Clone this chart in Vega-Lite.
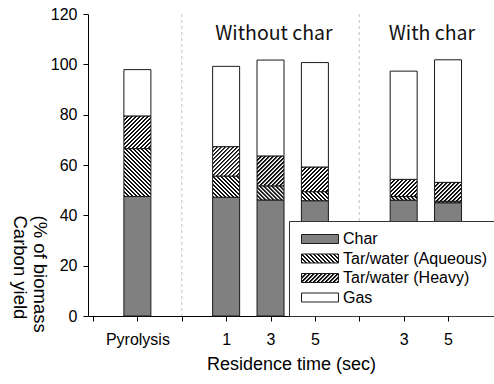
{
  "$schema": "https://vega.github.io/schema/vega-lite/v6.json",
  "width": 406,
  "height": 302,
  "autosize": "none",
  "padding": {"left": 88, "top": 14, "right": 0, "bottom": 68},
  "background": "white",
  "params": [
    {"name": "hs", "value": [
      {"offset": 0, "color": "#111"}, {"offset": 0.016, "color": "#111"}, {"offset": 0.022, "color": "#fff"}, {"offset": 0.038, "color": "#fff"},
      {"offset": 0.04, "color": "#111"}, {"offset": 0.056, "color": "#111"}, {"offset": 0.062, "color": "#fff"}, {"offset": 0.078, "color": "#fff"},
      {"offset": 0.08, "color": "#111"}, {"offset": 0.096, "color": "#111"}, {"offset": 0.102, "color": "#fff"}, {"offset": 0.118, "color": "#fff"},
      {"offset": 0.12, "color": "#111"}, {"offset": 0.136, "color": "#111"}, {"offset": 0.142, "color": "#fff"}, {"offset": 0.158, "color": "#fff"},
      {"offset": 0.16, "color": "#111"}, {"offset": 0.176, "color": "#111"}, {"offset": 0.182, "color": "#fff"}, {"offset": 0.198, "color": "#fff"},
      {"offset": 0.2, "color": "#111"}, {"offset": 0.216, "color": "#111"}, {"offset": 0.222, "color": "#fff"}, {"offset": 0.238, "color": "#fff"},
      {"offset": 0.24, "color": "#111"}, {"offset": 0.256, "color": "#111"}, {"offset": 0.262, "color": "#fff"}, {"offset": 0.278, "color": "#fff"},
      {"offset": 0.28, "color": "#111"}, {"offset": 0.296, "color": "#111"}, {"offset": 0.302, "color": "#fff"}, {"offset": 0.318, "color": "#fff"},
      {"offset": 0.32, "color": "#111"}, {"offset": 0.336, "color": "#111"}, {"offset": 0.342, "color": "#fff"}, {"offset": 0.358, "color": "#fff"},
      {"offset": 0.36, "color": "#111"}, {"offset": 0.376, "color": "#111"}, {"offset": 0.382, "color": "#fff"}, {"offset": 0.398, "color": "#fff"},
      {"offset": 0.4, "color": "#111"}, {"offset": 0.416, "color": "#111"}, {"offset": 0.422, "color": "#fff"}, {"offset": 0.438, "color": "#fff"},
      {"offset": 0.44, "color": "#111"}, {"offset": 0.456, "color": "#111"}, {"offset": 0.462, "color": "#fff"}, {"offset": 0.478, "color": "#fff"},
      {"offset": 0.48, "color": "#111"}, {"offset": 0.496, "color": "#111"}, {"offset": 0.502, "color": "#fff"}, {"offset": 0.518, "color": "#fff"},
      {"offset": 0.52, "color": "#111"}, {"offset": 0.536, "color": "#111"}, {"offset": 0.542, "color": "#fff"}, {"offset": 0.558, "color": "#fff"},
      {"offset": 0.56, "color": "#111"}, {"offset": 0.576, "color": "#111"}, {"offset": 0.582, "color": "#fff"}, {"offset": 0.598, "color": "#fff"},
      {"offset": 0.6, "color": "#111"}, {"offset": 0.616, "color": "#111"}, {"offset": 0.622, "color": "#fff"}, {"offset": 0.638, "color": "#fff"},
      {"offset": 0.64, "color": "#111"}, {"offset": 0.656, "color": "#111"}, {"offset": 0.662, "color": "#fff"}, {"offset": 0.678, "color": "#fff"},
      {"offset": 0.68, "color": "#111"}, {"offset": 0.696, "color": "#111"}, {"offset": 0.702, "color": "#fff"}, {"offset": 0.718, "color": "#fff"},
      {"offset": 0.72, "color": "#111"}, {"offset": 0.736, "color": "#111"}, {"offset": 0.742, "color": "#fff"}, {"offset": 0.758, "color": "#fff"},
      {"offset": 0.76, "color": "#111"}, {"offset": 0.776, "color": "#111"}, {"offset": 0.782, "color": "#fff"}, {"offset": 0.798, "color": "#fff"},
      {"offset": 0.8, "color": "#111"}, {"offset": 0.816, "color": "#111"}, {"offset": 0.822, "color": "#fff"}, {"offset": 0.838, "color": "#fff"},
      {"offset": 0.84, "color": "#111"}, {"offset": 0.856, "color": "#111"}, {"offset": 0.862, "color": "#fff"}, {"offset": 0.878, "color": "#fff"},
      {"offset": 0.88, "color": "#111"}, {"offset": 0.896, "color": "#111"}, {"offset": 0.902, "color": "#fff"}, {"offset": 0.918, "color": "#fff"},
      {"offset": 0.92, "color": "#111"}, {"offset": 0.936, "color": "#111"}, {"offset": 0.942, "color": "#fff"}, {"offset": 0.958, "color": "#fff"},
      {"offset": 0.96, "color": "#111"}, {"offset": 0.976, "color": "#111"}, {"offset": 0.982, "color": "#fff"}, {"offset": 1, "color": "#fff"}
    ]}
  ],
  "config": {
    "view": {"stroke": null},
    "font": "Liberation Sans",
    "axis": {"domainColor": "#000", "tickColor": "#000", "labelColor": "#000", "titleColor": "#000", "grid": false}
  },
  "layer": [
    {
      "data": {"values": [
        {"pos": 1, "comp": "Char", "k": 1, "v": 47.5},
        {"pos": 1, "comp": "Tar/water (Aqueous)", "k": 2, "v": 19.0},
        {"pos": 1, "comp": "Tar/water (Heavy)", "k": 3, "v": 13.0},
        {"pos": 1, "comp": "Gas", "k": 4, "v": 18.4},
        {"pos": 3, "comp": "Char", "k": 1, "v": 47.2},
        {"pos": 3, "comp": "Tar/water (Aqueous)", "k": 2, "v": 8.4},
        {"pos": 3, "comp": "Tar/water (Heavy)", "k": 3, "v": 11.7},
        {"pos": 3, "comp": "Gas", "k": 4, "v": 31.9},
        {"pos": 4, "comp": "Char", "k": 1, "v": 46.1},
        {"pos": 4, "comp": "Tar/water (Aqueous)", "k": 2, "v": 5.6},
        {"pos": 4, "comp": "Tar/water (Heavy)", "k": 3, "v": 11.9},
        {"pos": 4, "comp": "Gas", "k": 4, "v": 38.1},
        {"pos": 5, "comp": "Char", "k": 1, "v": 45.8},
        {"pos": 5, "comp": "Tar/water (Aqueous)", "k": 2, "v": 3.6},
        {"pos": 5, "comp": "Tar/water (Heavy)", "k": 3, "v": 9.8},
        {"pos": 5, "comp": "Gas", "k": 4, "v": 41.5},
        {"pos": 7, "comp": "Char", "k": 1, "v": 46.0},
        {"pos": 7, "comp": "Tar/water (Aqueous)", "k": 2, "v": 1.5},
        {"pos": 7, "comp": "Tar/water (Heavy)", "k": 3, "v": 6.8},
        {"pos": 7, "comp": "Gas", "k": 4, "v": 43.0},
        {"pos": 8, "comp": "Char", "k": 1, "v": 45.0},
        {"pos": 8, "comp": "Tar/water (Aqueous)", "k": 2, "v": 0.6},
        {"pos": 8, "comp": "Tar/water (Heavy)", "k": 3, "v": 7.5},
        {"pos": 8, "comp": "Gas", "k": 4, "v": 48.7}
      ]},
      "mark": {"type": "bar", "orient": "vertical", "size": 27, "strokeWidth": 1},
      "encoding": {
        "x": {
          "field": "pos", "type": "quantitative",
          "scale": {"domain": [0, 8.923], "nice": false, "zero": false},
          "axis": {
            "values": [0, 1, 2, 3, 4, 5, 6, 7, 8],
            "labelExpr": "datum.value == 1 ? 'Pyrolysis' : datum.value == 3 ? '1' : datum.value == 4 ? '3' : datum.value == 5 ? '5' : datum.value == 7 ? '3' : datum.value == 8 ? '5' : ''",
            "title": "Residence time (sec)",
            "tickSize": 5,
            "labelFontSize": 16,
            "labelFont": "Liberation Sans",
            "labelPadding": 10,
            "labelFlush": false,
            "labelOverlap": false,
            "titleFont": "Liberation Sans",
            "titleFontSize": 18,
            "titleFontWeight": "normal",
            "titlePadding": 8
          }
        },
        "y": {
          "field": "v", "type": "quantitative", "stack": "zero",
          "scale": {"domain": [0, 120], "nice": false},
          "axis": {
            "values": [0, 20, 40, 60, 80, 100, 120],
            "title": ["(% of biomass", "Carbon yield"],
            "tickSize": 5,
            "labelFontSize": 16,
            "labelFont": "Liberation Sans",
            "labelPadding": 6,
            "titleFont": "Liberation Sans",
            "titleFontSize": 18.5,
            "titleFontWeight": "normal",
            "titleAngle": 90,
            "titleAlign": "left",
            "titleBaseline": "top",
            "titleX": -40,
            "titleY": 201,
            "titleLineHeight": 20
          }
        },
        "stroke": {
          "field": "comp", "type": "nominal",
          "scale": {"domain": ["Char", "Tar/water (Aqueous)", "Tar/water (Heavy)", "Gas"], "range": ["#1a1a1a", "#1a1a1a", "#1a1a1a", "#1a1a1a"]},
          "legend": {
            "title": null,
            "orient": "none",
            "legendX": 201,
            "legendY": 207,
            "padding": 10,
            "fillColor": "#ffffff",
            "strokeColor": "#333333",
            "symbolType": "M-4.111,-1H4.111V1H-4.111Z",
            "symbolSize": 81,
            "symbolStrokeWidth": 1,
            "symbolOffset": 13,
            "labelOffset": 15,
            "labelFontSize": 16,
            "labelFont": "Liberation Sans",
            "labelColor": "#000",
            "labelLimit": 400,
            "rowPadding": 3.5
          }
        },
        "order": {"field": "k", "type": "quantitative"},
        "fill": {"value": {"expr": "datum.comp ? (datum.comp === 'Char' ? '#808080' : datum.comp === 'Gas' ? '#ffffff' : datum.comp === 'Tar/water (Heavy)' ? {gradient: 'linear', x1: 0, y1: 0, x2: 2700 / (729 + pow(scale('y', datum.v_start) - scale('y', datum.v_end), 2)), y2: 100 * abs(scale('y', datum.v_start) - scale('y', datum.v_end)) / (729 + pow(scale('y', datum.v_start) - scale('y', datum.v_end), 2)), stops: hs} : {gradient: 'linear', x1: 0, y1: 1, x2: 2700 / (729 + pow(scale('y', datum.v_start) - scale('y', datum.v_end), 2)), y2: 1 - 100 * abs(scale('y', datum.v_start) - scale('y', datum.v_end)) / (729 + pow(scale('y', datum.v_start) - scale('y', datum.v_end), 2)), stops: hs}) : (datum.value === 'Char' ? '#808080' : datum.value === 'Gas' ? '#ffffff' : datum.value === 'Tar/water (Aqueous)' ? {gradient: 'linear', x1: 0, y1: 1, x2: 2.552, y2: 0.3793, stops: hs} : {gradient: 'linear', x1: 0, y1: 0, x2: 2.552, y2: 0.6207, stops: hs})"}}
      }
    },
    {
      "data": {"values": [{"s": 2}, {"s": 6}]},
      "mark": {"type": "rule", "color": "#c4c4c4", "strokeDash": [3, 3], "strokeWidth": 1},
      "encoding": {"x": {"field": "s", "type": "quantitative"}}
    },
    {
      "mark": {"type": "rule", "color": "#b0b0b0", "strokeDash": [9, 5], "strokeWidth": 1.5},
      "encoding": {"y": {"datum": 100}}
    },
    {
      "mark": {"type": "rule", "color": "#333333", "strokeWidth": 1},
      "encoding": {"y": {"datum": 120}}
    },
    {
      "data": {"values": [
        {"lab": "Without char", "px": 4.077, "py": 109.7},
        {"lab": "With char", "px": 7.637, "py": 109.7}
      ]},
      "mark": {"type": "text", "font": "Noto Sans CJK KR", "fontSize": 19.5, "color": "#111", "baseline": "alphabetic", "align": "center"},
      "encoding": {
        "x": {"field": "px", "type": "quantitative"},
        "y": {"field": "py", "type": "quantitative"},
        "text": {"field": "lab"}
      }
    }
  ]
}
